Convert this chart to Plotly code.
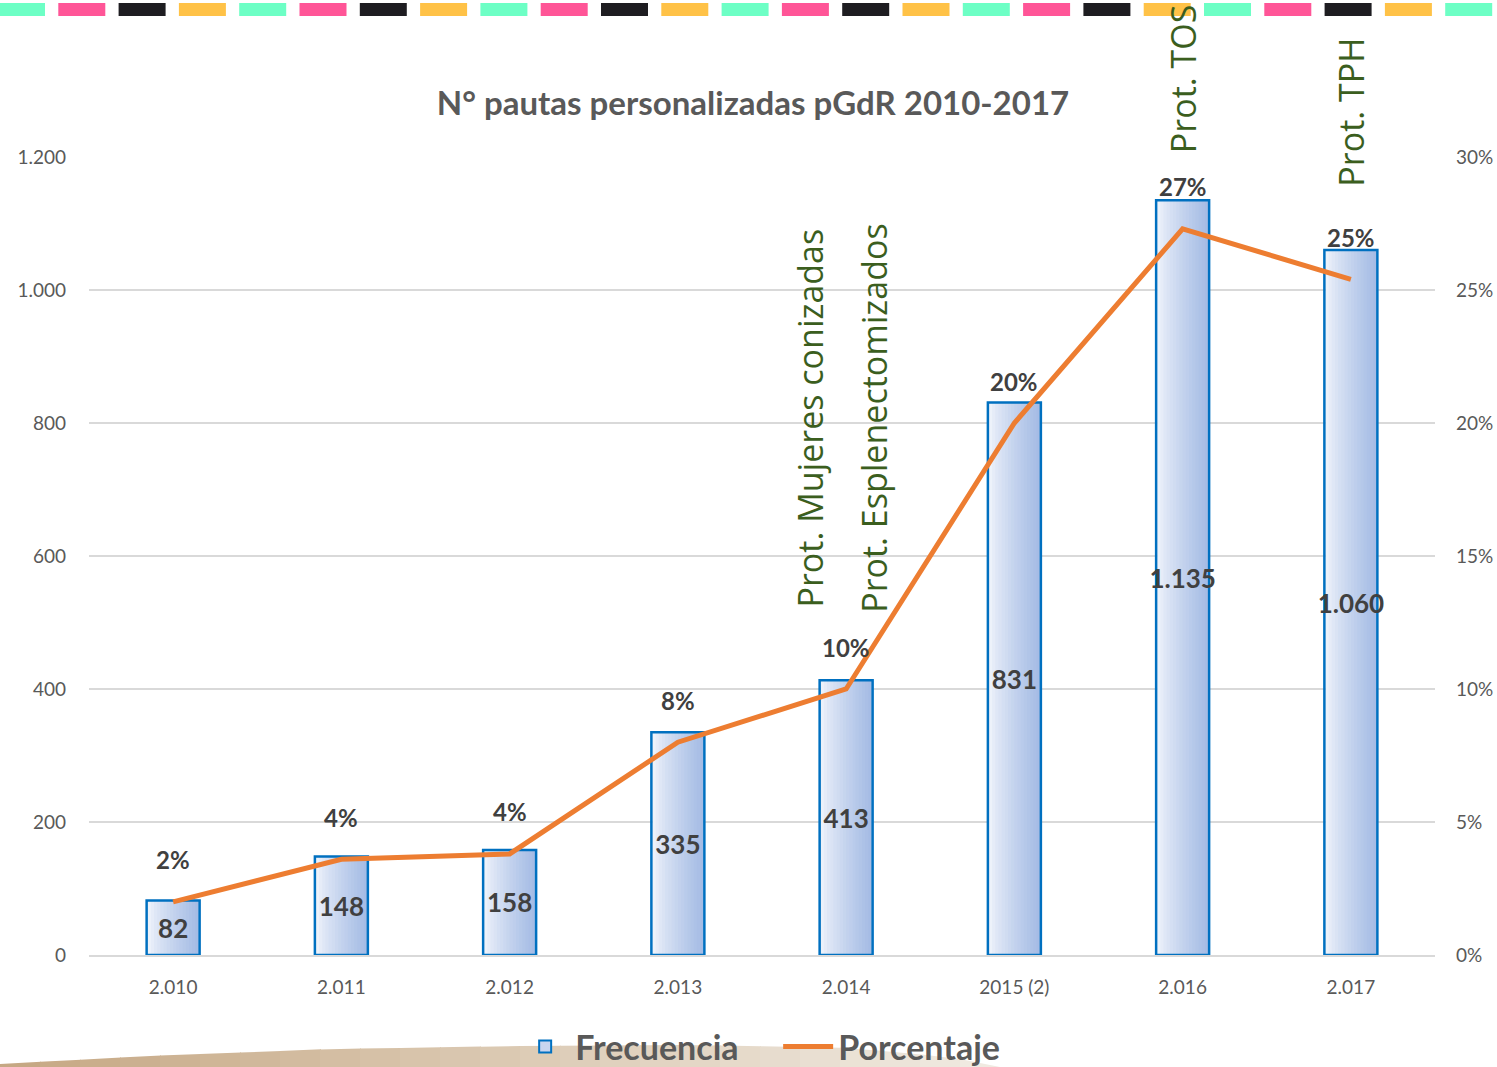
import plotly.graph_objects as go

# datos
categorias = ["2.010", "2.011", "2.012", "2.013", "2.014", "2015 (2)", "2.016", "2.017"]
frecuencia = [82, 148, 158, 335, 413, 831, 1135, 1060]
porcentaje = [2.0, 3.6, 3.8, 8.0, 10.0, 20.0, 27.3, 25.4]
protocolos = ["Prot. Mujeres conizadas", "Prot. Esplenectomizados", "Prot. TOS", "Prot. TPH"]
protocolo_anio = ["2.014", "2.014", "2.016", "2.017"]
ticks_izq = [0, 200, 400, 600, 800, 1000, 1200]
ticks_der = [0, 5, 10, 15, 20, 25, 30]

FONT = "Lato, Open Sans, sans-serif"
GRAY = "#595959"
DARK = "#404040"
GREEN = "#3B5E1E"
ORANGE = "#ED7D31"
BLUE = "#0070C0"

W, H = 1497, 1067
ML, MR, MT, MB = 89, 62, 157, 112


def px(x):
    return (x - ML) / (W - ML - MR)


def py(y):
    return (H - MB - y) / (H - MT - MB)


fig = go.Figure()

# barras con degradado horizontal (rebanadas)
BAR_W = 0.315
N = 16
inner = BAR_W - 0.012
step = inner / N
c0 = (243, 246, 252)
c1 = (164, 187, 228)
for i in range(N):
    t = ((i + 0.5) / N) ** 0.75
    col = "rgb({},{},{})".format(*[round(a + (b - a) * t) for a, b in zip(c0, c1)])
    fig.add_trace(go.Bar(
        x=categorias, y=frecuencia, width=min(2 * step, inner - i * step),
        offset=-inner / 2 + i * step,
        marker=dict(color=col, line=dict(width=0)),
        showlegend=False, hoverinfo="skip",
    ))

fig.add_trace(go.Bar(
    x=categorias, y=frecuencia, width=BAR_W,
    marker=dict(color="rgba(0,0,0,0)", line=dict(color=BLUE, width=2.5)),
    texttemplate="<b>%{y:,}</b>", textposition="inside", insidetextanchor="middle",
    textangle=0, constraintext="none",
    textfont=dict(family=FONT, size=26, color=DARK),
    showlegend=False, name="Frecuencia",
))

# solo para la leyenda
fig.add_trace(go.Bar(
    x=[None], y=[None], name="<b>Frecuencia</b>",
    marker=dict(color="#c8d5ef", line=dict(color=BLUE, width=2)),
))

fig.add_trace(go.Scatter(
    x=categorias, y=porcentaje, yaxis="y2", mode="lines", name="<b>Porcentaje</b>",
    line=dict(color=ORANGE, width=5),
))

anns = []
for i, p in enumerate(porcentaje):
    anns.append(dict(
        x=i, y=p, yref="y2", text="<b>%d%%</b>" % round(p), showarrow=False,
        yshift=42, font=dict(family=FONT, size=24, color=DARK),
    ))

# (desplazamiento x en px, base en unidades del eje, desplazamiento y en px)
prot_pos = [(-36, 519, 0), (28, 511, 0), (0, 1200, 2), (0, 1153, 0)]
for txt, c, (dx, yb, dy) in zip(protocolos, protocolo_anio, prot_pos):
    anns.append(dict(
        x=categorias.index(c), y=yb, text=txt, textangle=-90, showarrow=False,
        xshift=dx, yshift=dy, yanchor="bottom",
        font=dict(family="Open Sans, sans-serif", size=34, color=GREEN),
    ))

# franja superior de guiones de colores
shapes = []
strip = ["#6DFFC5", "#FF5597", "#1E1D21", "#FFC247"]
for k in range(25):
    x0 = -2 + k * 60.3
    shapes.append(dict(
        type="rect", xref="paper", yref="paper",
        x0=px(x0), x1=px(x0 + 47), y0=py(16), y1=py(3),
        fillcolor=strip[k % 4], line=dict(width=0), layer="above",
    ))

# curva beige inferior (degradado por franjas)
top_pts = [(0, 1064), (150, 1056), (330, 1049), (520, 1046), (700, 1045),
           (850, 1048), (950, 1057), (1000, 1067)]


def top_y(x):
    for (xa, ya), (xb, yb) in zip(top_pts[:-1], top_pts[1:]):
        if xa <= x <= xb:
            return ya + (yb - ya) * (x - xa) / (xb - xa)
    return 1067


d0 = (198, 168, 132)
d1 = (240, 234, 225)
nstr = 25
for k in range(nstr):
    xa = 1000 * k / nstr
    xb = 1000 * (k + 1) / nstr + 1
    t = k / (nstr - 1)
    col = "rgb({},{},{})".format(*[round(a + (b - a) * t) for a, b in zip(d0, d1)])
    pts = [(xa, 1067), (xa, top_y(xa)), (min(xb, 1000), top_y(min(xb, 1000))), (min(xb, 1000), 1067)]
    path = "M " + " L ".join("{},{}".format(px(a), py(b)) for a, b in pts) + " Z"
    shapes.append(dict(
        type="path", xref="paper", yref="paper", layer="below",
        path=path, fillcolor=col, line=dict(width=0),
    ))

fig.update_layout(
    width=W, height=H,
    margin=dict(l=ML, r=MR, t=MT, b=MB, autoexpand=False),
    paper_bgcolor="white", plot_bgcolor="white",
    separators=",.",
    barmode="overlay",
    font=dict(family=FONT, color=GRAY),
    title=dict(
        text="<b>N° pautas personalizadas pGdR 2010-2017</b>",
        x=753 / W, xanchor="center", y=1 - 103 / H, yanchor="middle",
        font=dict(family=FONT, size=33, color=GRAY),
    ),
    xaxis=dict(
        type="category", showgrid=False, showline=True, linecolor="#D9D9D9", linewidth=2,
        ticks="", ticklabelstandoff=14, tickfont=dict(size=19, color=GRAY),
    ),
    yaxis=dict(
        range=[0, 1200], tickvals=ticks_izq, tickformat=",d", showgrid=True,
        gridcolor="#D9D9D9", gridwidth=2, zeroline=False, ticks="",
        ticklabelstandoff=22, tickfont=dict(size=19, color=GRAY),
    ),
    yaxis2=dict(
        range=[0, 30], tickvals=ticks_der, ticktext=["%d%%" % v for v in ticks_der],
        overlaying="y", side="right",
        showgrid=False, zeroline=False, ticks="", ticklabelstandoff=20,
        tickfont=dict(size=19, color=GRAY),
    ),
    legend=dict(
        orientation="h", x=0.512, xanchor="center", y=py(1047), yanchor="middle",
        font=dict(family=FONT, size=34, color=GRAY), itemwidth=50, entrywidth=198,
        bgcolor="rgba(0,0,0,0)",
    ),
    annotations=anns,
    shapes=shapes,
)

fig.write_html("out.html", config={"displayModeBar": False},
               post_script="document.body.style.margin='0';")
